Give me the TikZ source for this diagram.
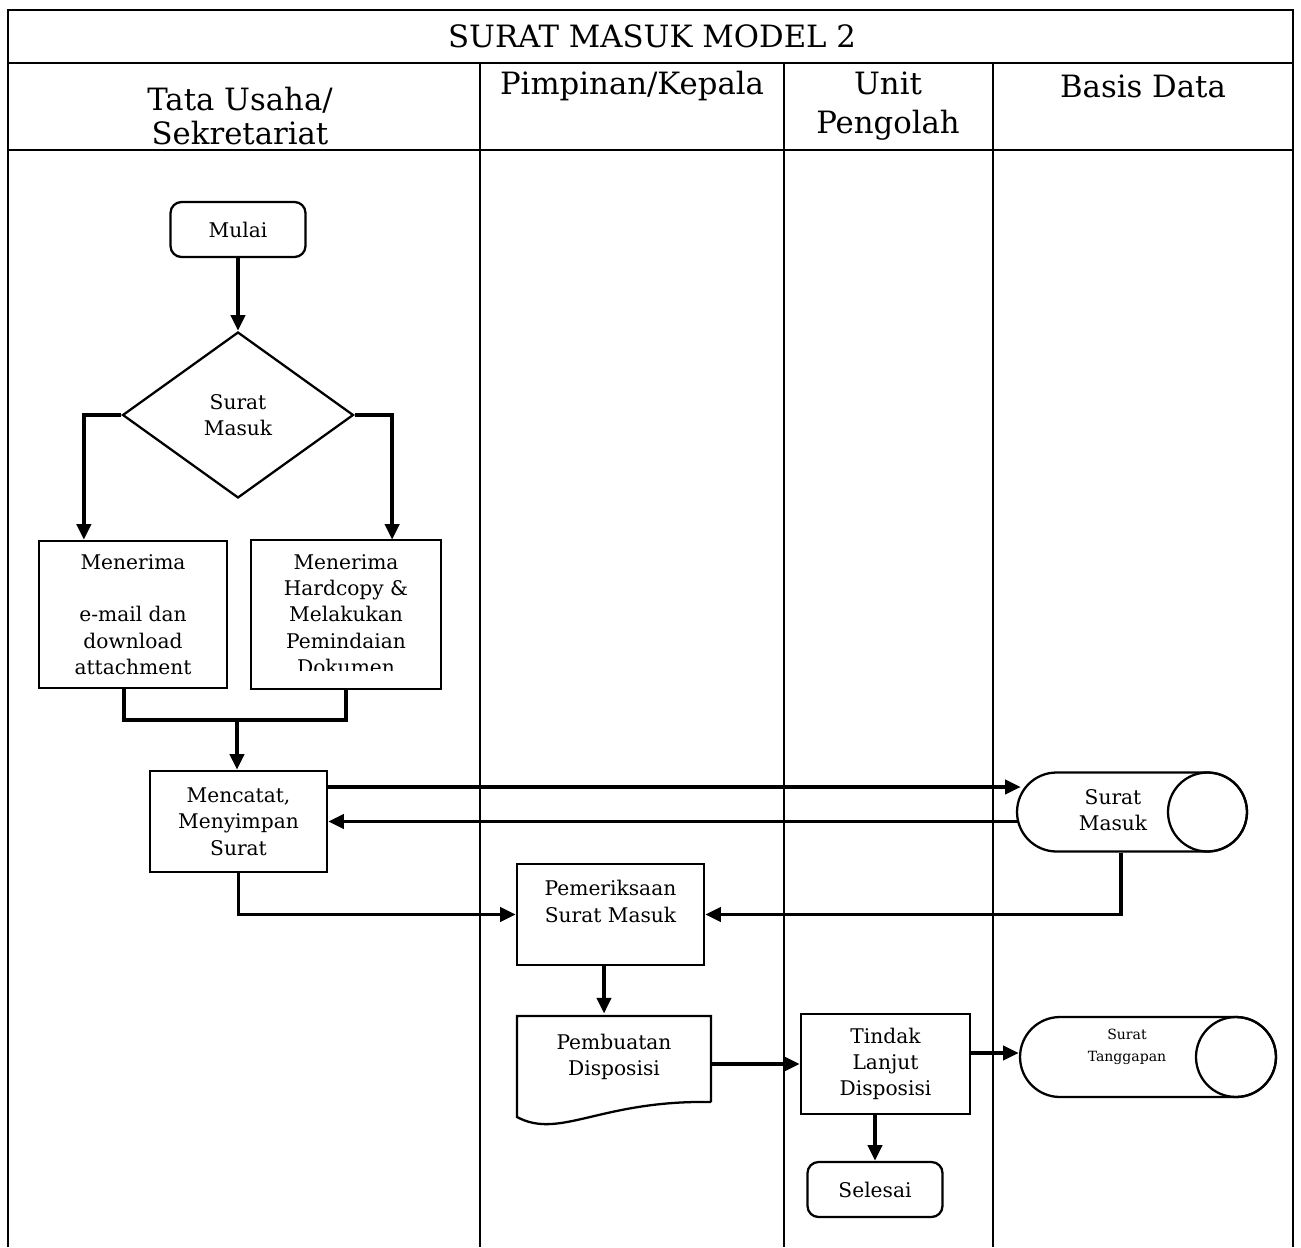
\documentclass[tikz,border=0pt]{standalone}
\usepackage{fontspec}
\setmainfont{DejaVu Serif}
\usetikzlibrary{arrows.meta,shapes.geometric,shapes.misc}

\begin{document}
\begin{tikzpicture}[x=0.02cm,y=-0.02cm,line join=miter,
	>={Triangle[length=9pt,width=8pt]},
	border/.style={line width=1.5pt},
	lane/.style={line width=1pt},
	flow/.style={line width=2.2pt,->},
	link/.style={line width=2.2pt},
	head/.style={font=\fontsize{17.5}{20}\selectfont,align=center,inner sep=0pt},
	box/.style={draw,line width=1.3pt,align=center,inner sep=0pt,font=\fontsize{11.5}{15}\selectfont},
	term/.style={box,rounded corners=0.22cm,minimum width=2.7cm,minimum height=1.1cm},
	proc/.style={box,minimum width=#1,minimum height=2.02cm},
	decision/.style={box,diamond,aspect=1.39,minimum width=4.62cm,minimum height=3.32cm},
	store/.style={draw,line width=1.3pt,rounded rectangle,minimum width=#1,minimum height=1.58cm,inner sep=0pt},
	storeend/.style={draw,line width=1.3pt,circle,minimum size=1.58cm,inner sep=0pt},
	tag/.style={align=center,inner sep=0pt,font=\fontsize{11.5}{15}\selectfont}]
	\useasboundingbox (0,0) rectangle (1301,1247);
	% frame and lanes
	\draw[border] (8,1247) -- (8,10) -- (1293,10) -- (1293,1247);
	\draw[border] (8,63) -- (1293,63);
	\draw[border] (8,150) -- (1293,150);
	\foreach \x in {480,784,993}
		\draw[lane] (\x,63) -- (\x,1247);
	\node[head] (judul) at (652,36) {SURAT MASUK MODEL 2};
	\node[head,font=\fontsize{17.5}{19}\selectfont] (tatausaha) at (240,116) {Tata Usaha/\\Sekretariat};
	\node[head] (pimpinan) at (632,86) {Pimpinan/Kepala};
	\node[head,font=\fontsize{17.5}{22}\selectfont] (unit) at (888,106) {Unit\\Pengolah};
	\node[head] (basisdata) at (1143,86) {Basis Data};
	% tata usaha
	\node[term] (mulai) at (238,229.5) {Mulai};
	\node[decision] (cek) at (238,415) {Surat\\Masuk};
	\node[proc=3.76cm,minimum height=2.94cm] (terima1) at (133,614.5) {Menerima\\\mbox{}\\e-mail dan\\download\\attachment};
	\begin{scope}
		\clip (252,541) rectangle (440,670);
		\node[proc=3.76cm,minimum height=2.94cm,draw=none] (terima2) at (346,614.5) {Menerima\\Hardcopy \&\\Melakukan\\Pemindaian\\Dokumen};
	\end{scope}
	\draw[line width=1.3pt] (terima2.north west) rectangle (terima2.south east);
	\coordinate (gabung) at (237,720);
	\node[proc=3.54cm] (catat) at (238.5,821.5) {Mencatat,\\Menyimpan\\Surat};
	% pimpinan
	\node[proc=3.74cm] (periksa) at (610.5,914.5) {Pemeriksaan\\Surat Masuk\\\mbox{}};
	\node[tag,minimum width=3.88cm,minimum height=1.72cm] (buat) at (614,1057) {Pembuatan\\Disposisi};
	\draw[line width=1.3pt] (711,1102) -- (711,1016) -- (517,1016) -- (517,1117)
		.. controls (560,1140) and (600,1100) .. (711,1102);
	% unit pengolah
	\node[proc=3.38cm,minimum height=2cm] (tindak) at (885.5,1064) {Tindak\\Lanjut\\Disposisi};
	\node[term] (selesai) at (875,1189.5) {Selesai};
	% basis data
	\node[store=4.6cm] (sm) at (1132,812) {};
	\node[storeend,anchor=east] (smujung) at (sm.east) {};
	\node[tag] (smteks) at (1113,810) {Surat\\Masuk};
	\node[store=5.12cm,minimum height=1.6cm] (st) at (1148,1057) {};
	\node[storeend,minimum size=1.6cm,anchor=east] (stujung) at (st.east) {};
	\node[tag,font=\fontsize{8}{12.5}\selectfont] (stteks) at (1127,1047) {Surat\\Tanggapan};
	% connectors
	\draw[flow] (mulai.south) -- (cek.north);
	\draw[flow] (cek.west) -| ([xshift=0.92cm]terima1.north west);
	\draw[flow] (cek.east) -| ([xshift=-0.98cm]terima2.north east);
	\draw[link] ([xshift=-0.18cm]terima1.south) |- (gabung);
	\draw[link] (terima2.south) |- (gabung);
	\draw[flow] (gabung) -- (gabung |- catat.north);
	\draw[flow] ([yshift=0.69cm]catat.east) -- ([xshift=0.1cm,yshift=0.69cm]catat.east -| sm.west);
	\draw[flow] ([xshift=0.05cm]sm.west |- catat.east) -- (catat.east);
	\draw[flow] (catat.south) |- (periksa.west);
	\draw[flow] ([xshift=-0.22cm]sm.south) |- (periksa.east);
	\draw[flow] ([xshift=-0.13cm]periksa.south) -- ([xshift=-0.13cm]periksa.south |- buat.north);
	\draw[flow] (buat.east |- tindak.west) -- (tindak.west);
	\draw[flow] ([yshift=0.22cm]tindak.east) -- ([yshift=0.22cm]tindak.east -| st.west);
	\draw[flow] (tindak.south -| selesai.north) -- (selesai.north);
\end{tikzpicture}
\end{document}
